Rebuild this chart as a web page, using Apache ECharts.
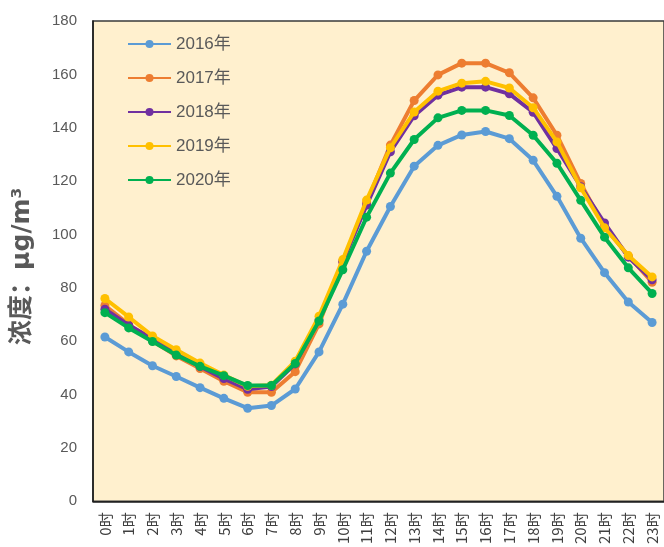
<!DOCTYPE html>
<html>
<head>
<meta charset="utf-8">
<script src="https://cdn.jsdelivr.net/npm/echarts@6/dist/echarts.min.js"></script>
<style>
  html, body { margin: 0; padding: 0; background: #ffffff; }
  #chart { width: 664px; height: 547px; }
</style>
</head>
<body>
<div id="chart"></div>
<script>
// Hourly concentration profiles (μg/m³), one list per year
const hours = ['0时','1时','2时','3时','4时','5时','6时','7时','8时','9时','10时','11时',
               '12时','13时','14时','15时','16时','17时','18时','19时','20时','21时','22时','23时'];

const years = ['2016年', '2017年', '2018年', '2019年', '2020年'];

const y2016 = [61.6, 56.0, 50.8, 46.8, 42.6, 38.6, 34.9, 35.9, 42.1, 56.0, 73.9, 93.7,
               110.5, 125.6, 133.4, 137.3, 138.6, 135.9, 127.8, 114.3, 98.6, 85.7, 74.7, 67.0];
const y2017 = [73.4, 66.3, 60.1, 54.5, 49.8, 45.0, 40.9, 40.9, 48.6, 66.5, 89.5, 112.0,
               133.5, 150.2, 159.8, 164.2, 164.2, 160.6, 151.2, 137.2, 119.1, 102.9, 92.0, 82.1];
const y2018 = [72.0, 66.0, 61.0, 55.2, 50.5, 46.0, 42.0, 43.0, 51.5, 68.0, 90.0, 111.0,
               131.0, 144.5, 152.2, 155.2, 155.2, 152.7, 145.8, 132.2, 117.9, 104.3, 91.5, 83.0];
const y2019 = [76.0, 69.1, 62.0, 56.8, 51.8, 47.3, 43.1, 43.5, 52.5, 69.4, 90.6, 112.9,
               132.5, 145.9, 153.7, 156.7, 157.4, 154.9, 147.5, 134.7, 117.5, 102.5, 92.1, 84.1];
const y2020 = [70.7, 65.0, 59.9, 54.8, 50.6, 47.1, 43.4, 43.4, 51.7, 67.6, 86.8, 106.5,
               123.0, 135.6, 143.7, 146.5, 146.5, 144.6, 137.2, 126.7, 112.8, 99.0, 87.5, 77.9];

const yTicks = [0, 20, 40, 60, 80, 100, 120, 140, 160, 180];

const seriesValues = [y2016, y2017, y2018, y2019, y2020];
const palette = ['#5B9BD5', '#ED7D31', '#7030A0', '#FFC000', '#00B050'];

const chart = echarts.init(document.getElementById('chart'), null, { renderer: 'canvas' });

chart.setOption({
  animation: false,
  backgroundColor: '#ffffff',
  textStyle: { fontFamily: "'Liberation Sans', 'Noto Sans CJK SC', sans-serif" },
  grid: {
    left: 93, top: 21, right: -3, bottom: 44,
    show: true,
    backgroundColor: '#FFF0CE',
    borderColor: '#3a3a3a',
    borderWidth: 1.5
  },
  legend: {
    orient: 'vertical',
    left: 122,
    top: 30,
    itemWidth: 43,
    itemHeight: 10,
    itemGap: 16,
    data: years,
    textStyle: {
      color: '#595959', fontSize: 17, lineHeight: 17,
      padding: [1, 0, 0, 0],
      fontFamily: "'Liberation Sans', 'Noto Sans CJK SC', sans-serif"
    }
  },
  xAxis: {
    type: 'category',
    data: hours,
    boundaryGap: true,
    axisLine: { show: true, lineStyle: { color: '#1a1a1a', width: 1.5 } },
    axisTick: { show: false },
    axisLabel: {
      rotate: 90,
      interval: 0,
      color: '#404040',
      fontSize: 15,
      margin: 11,
      fontFamily: "'Noto Sans CJK SC', sans-serif"
    },
    splitLine: { show: false }
  },
  yAxis: {
    type: 'value',
    min: yTicks[0],
    max: yTicks[yTicks.length - 1],
    interval: 20,
    name: '浓度：μg/m³',
    nameLocation: 'middle',
    nameRotate: 90,
    nameGap: 58,
    nameTextStyle: {
      color: '#595959',
      fontSize: 25,
      fontWeight: 'bold',
      padding: [0, 10, 0, 0],
      fontFamily: "'DejaVu Sans', 'Noto Sans CJK SC', sans-serif"
    },
    axisLine: { show: true, lineStyle: { color: '#1a1a1a', width: 1.5 } },
    axisTick: { show: false },
    splitLine: { show: false },
    axisLabel: { color: '#595959', fontSize: 15, margin: 16 }
  },
  series: years.map((name, i) => ({
    name: name,
    type: 'line',
    data: seriesValues[i],
    symbol: 'circle',
    symbolSize: 9,
    showSymbol: true,
    itemStyle: { color: palette[i] },
    lineStyle: { color: palette[i], width: 4 },
    z: 2 + i
  }))
});
</script>
</body>
</html>
